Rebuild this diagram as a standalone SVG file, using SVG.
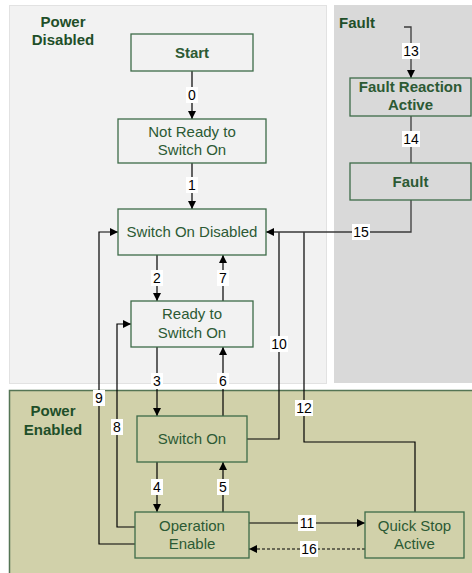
<svg xmlns="http://www.w3.org/2000/svg" width="472" height="573" viewBox="0 0 472 573">
<defs>
<style>
.node{stroke:#3d6b48;stroke-width:1.3}
.t{font-family:"Liberation Sans",Arial,sans-serif;font-size:15px;fill:#2c5a34;text-anchor:middle}
.b{font-weight:bold}
.h{font-family:"Liberation Sans",Arial,sans-serif;font-size:15px;font-weight:bold;fill:#1f4f29;text-anchor:middle}
.ln{fill:none;stroke:#000;stroke-width:1.2}
.lg{fill:none;stroke:#3a3a3a;stroke-width:1.3}
.lb{fill:#fff}
.n{font-family:"Liberation Sans",Arial,sans-serif;font-size:14px;fill:#000;text-anchor:middle}
</style>
<marker id="ah" viewBox="0 0 10 10" refX="10" refY="5" markerWidth="9" markerHeight="8" markerUnits="userSpaceOnUse" orient="auto">
<path d="M0,0 L10,5 L0,10 z" fill="#000"/>
</marker>
</defs>
<rect width="472" height="573" fill="#fff"/>
<g id="panels">
<rect x="9.5" y="5.5" width="317" height="378" fill="#f2f2f2" stroke="#e2e2e2"/>
<rect x="334" y="5" width="138" height="378" fill="#d9d9d9"/>
<rect x="9" y="390.5" width="463" height="183" fill="#d1d1aa"/>
<path d="M9.5,573 V390.5 H472" fill="none" stroke="#557555" stroke-width="1.5"/>
<text class="h" x="63" y="27">Power</text>
<text class="h" x="63" y="45">Disabled</text>
<text class="h" x="357" y="28">Fault</text>
<text class="h" x="53" y="416">Power</text>
<text class="h" x="53" y="435">Enabled</text>
</g>
<g id="connectors">
<line class="ln" x1="192" y1="71" x2="192" y2="119" marker-end="url(#ah)"/>
<line class="ln" x1="192" y1="163" x2="192" y2="209" marker-end="url(#ah)"/>
<line class="ln" x1="157" y1="255" x2="157" y2="301" marker-end="url(#ah)"/>
<line class="ln" x1="223" y1="301" x2="223" y2="255" marker-end="url(#ah)"/>
<line class="ln" x1="157" y1="347" x2="157" y2="416" marker-end="url(#ah)"/>
<line class="ln" x1="223" y1="416" x2="223" y2="347" marker-end="url(#ah)"/>
<line class="ln" x1="157" y1="462" x2="157" y2="512" marker-end="url(#ah)"/>
<line class="ln" x1="223" y1="512" x2="223" y2="462" marker-end="url(#ah)"/>
<polyline class="ln" points="135,544 99,544 99,232 118,232" marker-end="url(#ah)"/>
<polyline class="ln" points="135,527 117,527 117,324 131,324" marker-end="url(#ah)"/>
<polyline class="ln" points="247,439 279,439 279,232"/>
<polyline class="ln" points="415,512 415,442 304,442 304,232"/>
<polyline class="lg" points="411,200 411,232 266,232" marker-end="url(#ah)"/>
<polyline class="lg" points="404,27 411,27 411,78" marker-end="url(#ah)"/>
<line class="lg" x1="411" y1="116" x2="411" y2="163"/>
<line class="ln" x1="249" y1="523" x2="365" y2="523" marker-end="url(#ah)"/>
<line class="ln" x1="365" y1="549" x2="249" y2="549" stroke-dasharray="3,2" marker-end="url(#ah)"/>
<g id="labels">
<rect class="lb" x="186" y="87" width="12" height="16"/><text class="n" x="192" y="100">0</text>
<rect class="lb" x="186" y="177" width="12" height="16"/><text class="n" x="192" y="190">1</text>
<rect class="lb" x="151" y="270" width="12" height="16"/><text class="n" x="157" y="283">2</text>
<rect class="lb" x="217" y="270" width="12" height="16"/><text class="n" x="223" y="283">7</text>
<rect class="lb" x="151" y="373" width="12" height="16"/><text class="n" x="157" y="386">3</text>
<rect class="lb" x="217" y="373" width="12" height="16"/><text class="n" x="223" y="386">6</text>
<rect class="lb" x="93" y="390" width="12" height="16"/><text class="n" x="99" y="403">9</text>
<rect class="lb" x="111" y="419" width="12" height="16"/><text class="n" x="117" y="432">8</text>
<rect class="lb" x="151" y="479" width="12" height="16"/><text class="n" x="157" y="492">4</text>
<rect class="lb" x="217" y="479" width="12" height="16"/><text class="n" x="223" y="492">5</text>
<rect class="lb" x="270" y="336" width="18" height="16"/><text class="n" x="279" y="349">10</text>
<rect class="lb" x="295" y="400" width="18" height="16"/><text class="n" x="304" y="413">12</text>
<rect class="lb" x="298" y="515" width="18" height="16"/><text class="n" x="307" y="528">11</text>
<rect class="lb" x="300" y="541" width="18" height="16"/><text class="n" x="309" y="554">16</text>
<rect class="lb" x="352" y="224" width="18" height="16"/><text class="n" x="361" y="237">15</text>
<rect class="lb" x="402" y="43" width="18" height="16"/><text class="n" x="411" y="56">13</text>
<rect class="lb" x="402" y="131" width="18" height="16"/><text class="n" x="411" y="144">14</text>
</g>
</g>
<g id="start"><rect class="node" x="131" y="34" width="122" height="37" fill="#f2f2f2"/><text class="t b" x="192" y="58">Start</text></g>
<g id="not-ready"><rect class="node" x="118" y="119" width="148" height="44" fill="#f2f2f2"/><text class="t" x="192" y="137">Not Ready to</text><text class="t" x="192" y="155">Switch On</text></g>
<g id="switch-on-disabled"><rect class="node" x="118" y="209" width="148" height="46" fill="#f2f2f2"/><text class="t" x="192" y="237">Switch On Disabled</text></g>
<g id="ready"><rect class="node" x="131" y="301" width="122" height="46" fill="#f2f2f2"/><text class="t" x="192" y="319">Ready to</text><text class="t" x="192" y="338">Switch On</text></g>
<g id="switch-on"><rect class="node" x="137" y="416" width="110" height="46" fill="#d1d1aa"/><text class="t" x="192" y="444">Switch On</text></g>
<g id="operation-enable"><rect class="node" x="135" y="512" width="114" height="46" fill="#d1d1aa"/><text class="t" x="192" y="531">Operation</text><text class="t" x="192" y="549">Enable</text></g>
<g id="quick-stop"><rect class="node" x="365" y="512" width="99" height="46" fill="#d1d1aa"/><text class="t" x="414.5" y="531">Quick Stop</text><text class="t" x="414.5" y="549">Active</text></g>
<g id="fault-reaction"><rect class="node" x="350" y="78" width="121" height="38" fill="#d9d9d9"/><text class="t b" x="410.5" y="92">Fault Reaction</text><text class="t b" x="410.5" y="110">Active</text></g>
<g id="fault"><rect class="node" x="350" y="163" width="121" height="37" fill="#d9d9d9"/><text class="t b" x="410.5" y="187">Fault</text></g>
</svg>
